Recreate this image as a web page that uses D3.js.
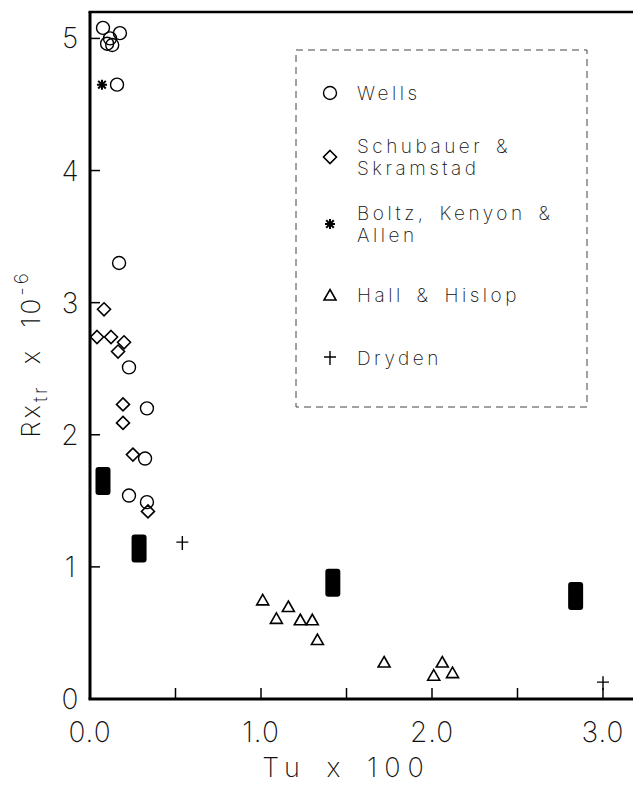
<!DOCTYPE html>
<html>
<head>
<meta charset="utf-8">
<script src="https://cdn.jsdelivr.net/npm/d3@7"></script>
<style>
  body { margin: 0; background: #fff; }
  svg { display: block; }
  text { font-family: Inter, "DejaVu Sans", sans-serif; font-weight: 200; fill: #111; }
</style>
</head>
<body>
<svg></svg>
<script>
const svgWidth = 633
const svgHeight = 785

// data (Tu x 100, Rx_tr x 10^-6)
const wellsX = [0.076, 0.175, 0.10, 0.13, 0.117, 0.158, 0.17, 0.228, 0.333, 0.322, 0.228, 0.333]
const wellsY = [5.08, 5.04, 4.96, 4.95, 5.00, 4.65, 3.30, 2.51, 2.20, 1.82, 1.54, 1.49]
const schubX = [0.082, 0.041, 0.123, 0.199, 0.164, 0.193, 0.193, 0.251, 0.339]
const schubY = [2.95, 2.74, 2.74, 2.70, 2.63, 2.23, 2.09, 1.85, 1.42]
const boltzX = [0.07]
const boltzY = [4.65]
const hallX = [1.01, 1.09, 1.16, 1.23, 1.30, 1.33, 1.72, 2.06, 2.01, 2.12]
const hallY = [0.75, 0.61, 0.70, 0.60, 0.60, 0.45, 0.28, 0.28, 0.18, 0.20]
const drydenX = [0.54, 3.0]
const drydenY = [1.18, 0.12]
const presentX = [0.076, 0.287, 1.42, 2.84]
const presentY = [1.65, 1.14, 0.88, 0.78]

const xTicks = [0, 0.5, 1.0, 1.5, 2.0, 2.5, 3.0]
const xTickLabels = [0, 1, 2, 3]
const yTicks = [0, 1, 2, 3, 4, 5]
const legendNames = [["Wells"], ["Schubauer &", "Skramstad"], ["Boltz, Kenyon &", "Allen"], ["Hall & Hislop"], ["Dryden"]]

const svg = d3.select("svg")
    .attr("width", svgWidth)
    .attr("height", svgHeight)

const xScale = d3.scaleLinear().domain([0, 3.0]).range([90, 603])
const yScale = d3.scaleLinear().domain([0, 5.2]).range([699, 12])

// frame: left axis, bottom axis, top line (runs off the right edge)
svg.append("line")
    .attr("x1", xScale(0)).attr("x2", xScale(0))
    .attr("y1", yScale(0)).attr("y2", yScale(5.2))
    .attr("stroke", "#000").attr("stroke-width", 3)
svg.append("line")
    .attr("x1", xScale(0) - 1.5).attr("x2", svgWidth)
    .attr("y1", yScale(0)).attr("y2", yScale(0))
    .attr("stroke", "#000").attr("stroke-width", 3)
svg.append("line")
    .attr("x1", xScale(0) - 1.5).attr("x2", svgWidth)
    .attr("y1", yScale(5.2)).attr("y2", yScale(5.2))
    .attr("stroke", "#000").attr("stroke-width", 2.5)

// x ticks point inward
svg.selectAll(".xtick")
    .data(xTicks.slice(1))
    .join("line")
    .attr("class", "xtick")
    .attr("x1", d => xScale(d)).attr("x2", d => xScale(d))
    .attr("y1", yScale(0)).attr("y2", yScale(0) - 11)
    .attr("stroke", "#000").attr("stroke-width", 1.5)

svg.selectAll(".xlabel")
    .data(xTickLabels)
    .join("text")
    .attr("class", "xlabel")
    .attr("x", d => xScale(d))
    .attr("y", yScale(0) + 43)
    .attr("text-anchor", "middle")
    .attr("font-size", 28)
    .attr("letter-spacing", 1)
    .text(d => d.toFixed(1))

svg.selectAll(".ytick")
    .data(yTicks.slice(1))
    .join("line")
    .attr("class", "ytick")
    .attr("x1", xScale(0)).attr("x2", xScale(0) + 10)
    .attr("y1", d => yScale(d)).attr("y2", d => yScale(d))
    .attr("stroke", "#000").attr("stroke-width", 1.5)

svg.selectAll(".ylabel")
    .data(yTicks)
    .join("text")
    .attr("class", "ylabel")
    .attr("x", 70)
    .attr("y", d => yScale(d) + 10)
    .attr("text-anchor", "middle")
    .attr("font-size", 28)
    .text(d => d)

// axis titles
svg.append("text")
    .attr("x", xScale(1.5))
    .attr("y", 777)
    .attr("text-anchor", "middle")
    .attr("font-size", 27)
    .attr("letter-spacing", 7)
    .attr("word-spacing", 5)
    .text("Tu x 100")

const yTitle = svg.append("text")
    .attr("transform", "translate(40,354) rotate(-90)")
    .attr("text-anchor", "middle")
    .attr("font-size", 26)
    .attr("letter-spacing", 3)
    .attr("word-spacing", 10)
yTitle.append("tspan").text("Rx")
yTitle.append("tspan").attr("font-size", 19).attr("dy", 7).text("tr")
yTitle.append("tspan").attr("dy", -7).text(" x 10")
yTitle.append("tspan").attr("font-size", 19).attr("dy", -12).text("-6")

// marker shapes
const circleMark = (g) => g.append("circle").attr("r", 6.5)
    .attr("fill", "none").attr("stroke", "#000").attr("stroke-width", 1.4)
const diamondMark = (g) => g.append("path")
    .attr("d", "M0,-6.5L6.5,0L0,6.5L-6.5,0Z")
    .attr("fill", "none").attr("stroke", "#000").attr("stroke-width", 1.6)
const triangleMark = (g) => g.append("path")
    .attr("d", "M0,-5.5L6,5L-6,5Z")
    .attr("fill", "none").attr("stroke", "#000").attr("stroke-width", 1.6)
const starMark = (g) => g.append("path")
    .attr("d", "M-5,0L5,0M0,-5L0,5M-3.8,-3.8L3.8,3.8M-3.8,3.8L3.8,-3.8")
    .attr("stroke", "#000").attr("stroke-width", 2)
const plusMark = (g) => g.append("path")
    .attr("d", "M0,-7L0,7M-6,-1L6,-1")
    .attr("stroke", "#000").attr("stroke-width", 1.4)

function drawSeries(xs, ys, mark, cls) {
    xs.forEach((x, i) => {
        const g = svg.append("g")
            .attr("class", cls)
            .attr("transform", `translate(${xScale(x)},${yScale(ys[i])})`)
        mark(g)
    })
}

drawSeries(wellsX, wellsY, circleMark, "wells")
drawSeries(schubX, schubY, diamondMark, "schub")
drawSeries(boltzX, boltzY, starMark, "boltz")
drawSeries(hallX, hallY, triangleMark, "hall")
drawSeries(drydenX, drydenY, plusMark, "dryden")

svg.selectAll(".present")
    .data(presentX)
    .join("rect")
    .attr("class", "present")
    .attr("x", d => xScale(d) - 7.5)
    .attr("y", (d, i) => yScale(presentY[i]) - 14)
    .attr("width", 15)
    .attr("height", 28)
    .attr("rx", 3)
    .attr("fill", "#000")

// legend
svg.append("rect")
    .attr("x", 296).attr("y", 50)
    .attr("width", 291).attr("height", 357)
    .attr("fill", "none")
    .attr("stroke", "#444")
    .attr("stroke-width", 1)
    .attr("stroke-dasharray", "7,5")

const legendMarks = [circleMark, diamondMark, starMark, triangleMark, plusMark]
const legendY = [93, 157, 224, 295, 358]
legendNames.forEach((lines, i) => {
    const g = svg.append("g").attr("transform", `translate(330,${legendY[i]})`)
    legendMarks[i](g)
    const top = lines.length === 1 ? 0 : -11
    lines.forEach((line, j) => {
        g.append("text")
            .attr("x", 27)
            .attr("y", top + j * 22 + 7)
            .attr("font-size", 19)
            .attr("letter-spacing", 3.5)
            .attr("word-spacing", 4)
            .text(line)
    })
})
</script>
</body>
</html>
